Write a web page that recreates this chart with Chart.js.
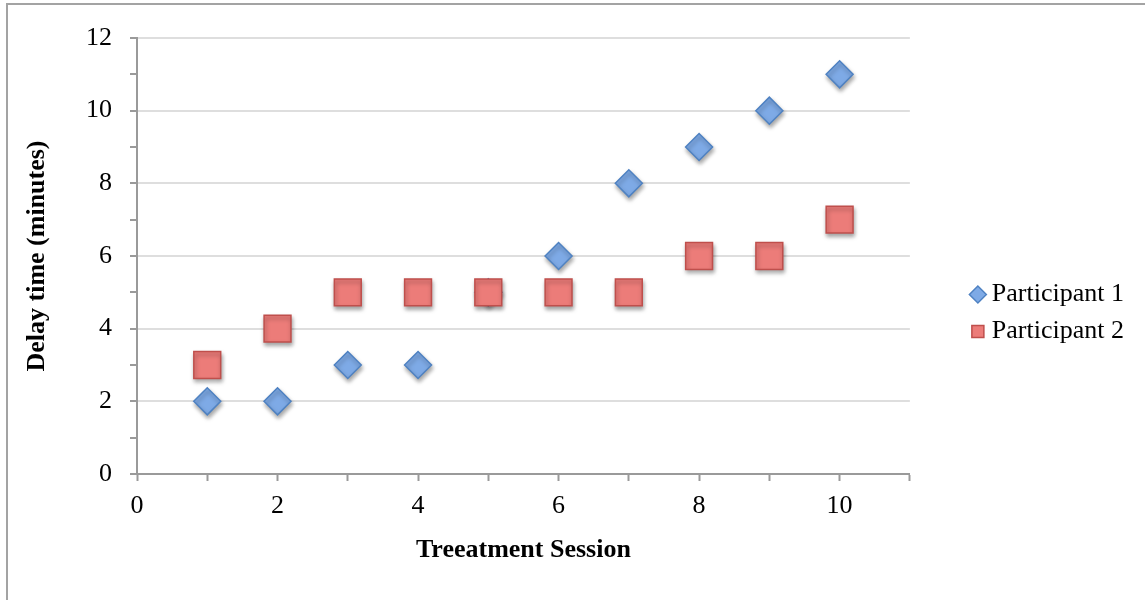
<!DOCTYPE html>
<html><head><meta charset="utf-8">
<script src="https://cdn.jsdelivr.net/npm/chart.js@4"></script>
<style>
html,body{margin:0;padding:0;background:#fff;overflow:hidden;}
#wrap{position:relative;width:1145px;height:600px;overflow:hidden;}
#frame{position:absolute;left:6px;top:3px;width:1200px;height:700px;border:2px solid #a3a3a3;box-sizing:border-box;}
canvas{position:absolute;left:0;top:0;}
</style></head><body>
<div id="wrap"><div id="frame"></div><canvas id="c" width="1145" height="600"></canvas></div>
<script>
const sessions = [1, 2, 3, 4, 5, 6, 7, 8, 9, 10];
const participant1 = [2, 2, 3, 3, 5, 6, 8, 9, 10, 11];
const participant2 = [3, 4, 5, 5, 5, 5, 5, 6, 6, 7];
const xTickLabels = [0, 2, 4, 6, 8, 10];
const yTickLabels = [0, 2, 4, 6, 8, 10, 12];
const seriesNames = ['Participant 1', 'Participant 2'];

const FONT = "'Liberation Serif', 'Times New Roman', serif";
const AXIS = '#9a9a9a';

const toPoints = (ys) => sessions.map((x, i) => ({x: x, y: ys[i]}));

const shadowPlugin = {
  id: 'markerShadow',
  beforeDatasetsDraw(chart) {
    const ctx = chart.ctx;
    ctx.save();
    ctx.shadowColor = 'rgba(0,0,0,0.35)';
    ctx.shadowBlur = 4;
    ctx.shadowOffsetX = 1;
    ctx.shadowOffsetY = 3;
  },
  afterDatasetsDraw(chart) {
    chart.ctx.restore();
  }
};

// move the legend block a little away from the plot area, as in the reference
const legendShift = {
  id: 'legendShift',
  afterLayout(chart) {
    const lg = chart.legend;
    if (lg) { lg.left += 56; lg.right += 56; lg.top -= 6; lg.bottom -= 6; }
  }
};

new Chart(document.getElementById('c'), {
  type: 'scatter',
  data: {
    datasets: [
      {
        label: seriesNames[0],
        data: toPoints(participant1),
        order: 1,
        pointStyle: 'rectRot',
        pointRadius: 13.5,
        pointHoverRadius: 13.5,
        backgroundColor: '#7eaae6',
        borderColor: '#4f82c2',
        borderWidth: 1.5
      },
      {
        label: seriesNames[1],
        data: toPoints(participant2),
        order: 0,
        pointStyle: 'rect',
        pointRadius: 19,
        pointHoverRadius: 19,
        backgroundColor: '#ec7c79',
        borderColor: '#bf4f4c',
        borderWidth: 1.5
      }
    ]
  },
  options: {
    responsive: false,
    animation: false,
    devicePixelRatio: 1,
    layout: {padding: {left: 8, top: 38, right: 67, bottom: 0}},
    plugins: {
      tooltip: {enabled: false},
      legend: {
        position: 'right',
        labels: {
          usePointStyle: true,
          boxWidth: 2,
          boxHeight: 12,
          padding: 11,
          color: '#000',
          font: {family: FONT, size: 26},
          sort: (a, b) => a.datasetIndex - b.datasetIndex
        }
      }
    },
    scales: {
      x: {
        type: 'linear',
        min: 0, max: 11,
        ticks: {
          stepSize: 1, autoSkip: false, maxRotation: 0,
          color: '#000', font: {family: FONT, size: 26}, padding: 10,
          callback: (v) => xTickLabels.includes(v) ? String(v) : ''
        },
        grid: {drawOnChartArea: false, drawTicks: true, tickLength: 7, tickColor: AXIS, tickWidth: 2},
        border: {color: AXIS, width: 2},
        title: {display: true, text: 'Treeatment Session', color: '#000',
                font: {family: FONT, size: 26, weight: 'bold'}, padding: {top: 6, bottom: 34}},
        afterFit: (s) => { s.height = 126; }
      },
      y: {
        type: 'linear',
        min: 0, max: 12,
        ticks: {
          stepSize: 1, autoSkip: false,
          color: '#000', font: {family: FONT, size: 26}, padding: 18,
          callback: (v) => yTickLabels.includes(v) ? String(v) : ''
        },
        grid: {
          drawTicks: true, tickLength: 7, tickColor: AXIS, tickWidth: 2, lineWidth: 2,
          color: (c) => (c.tick && yTickLabels.includes(c.tick.value) && c.tick.value !== 0) ? '#dedede' : 'rgba(0,0,0,0)'
        },
        border: {color: AXIS, width: 2},
        title: {display: true, text: 'Delay time (minutes)', color: '#000',
                font: {family: FONT, size: 26, weight: 'bold'}, padding: {top: 14, bottom: 0}},
        afterFit: (s) => { s.width = 129; }
      }
    }
  },
  plugins: [shadowPlugin, legendShift]
});
</script>
</body></html>
